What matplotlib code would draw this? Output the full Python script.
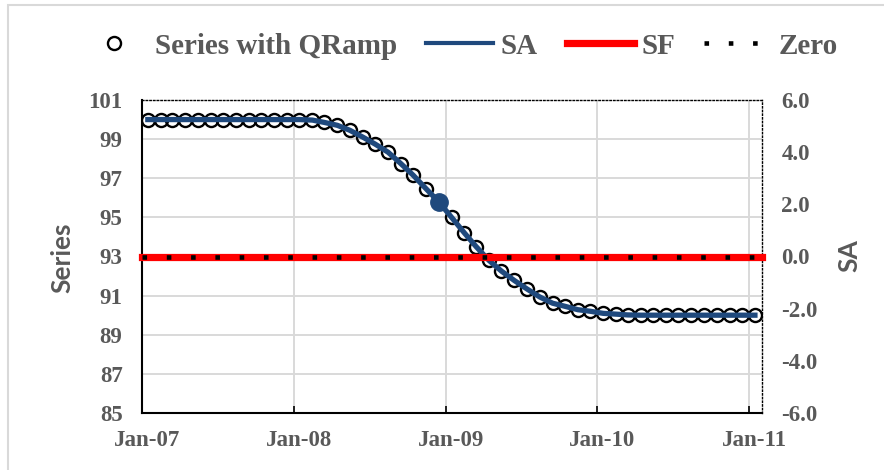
import matplotlib
matplotlib.use('Agg')
import matplotlib.pyplot as plt
import matplotlib.dates as mdates
import matplotlib.transforms as mtransforms
from matplotlib.lines import Line2D
from matplotlib.patches import Rectangle
import pandas as pd

# ---------------- data ----------------
dates = pd.date_range('2007-01-01', periods=49, freq='MS') + pd.Timedelta(days=14)

series_qramp = [100.00, 100.00, 100.00, 100.00, 100.00, 100.00, 100.00, 100.00, 100.00, 100.00,
                100.00, 100.00, 100.00, 99.97, 99.85, 99.70, 99.45, 99.10, 98.75, 98.33,
                97.75, 97.15, 96.45, 95.80, 95.00, 94.20, 93.50, 92.80, 92.25, 91.78,
                91.35, 90.93, 90.62, 90.45, 90.28, 90.20, 90.10, 90.05, 90.02, 90.00,
                90.00, 90.00, 90.00, 90.00, 90.00, 90.00, 90.00, 90.00, 90.00]

sa = [5.25, 5.25, 5.25, 5.25, 5.25, 5.25, 5.25, 5.25, 5.25, 5.25,
      5.25, 5.25, 5.25, 5.23, 5.14, 5.03, 4.84, 4.58, 4.31, 4.00,
      3.56, 3.11, 2.59, 2.10, 1.50, 0.90, 0.38, -0.15, -0.56, -0.92,
      -1.24, -1.55, -1.79, -1.91, -2.04, -2.10, -2.18, -2.21, -2.24, -2.25,
      -2.25, -2.25, -2.25, -2.25, -2.25, -2.25, -2.25, -2.25, -2.25]

highlight_index = 23  # Dec-08

line_dates = pd.to_datetime(['2007-01-01', '2011-02-01'])
sf_values = [0.0, 0.0]
zero_values = [0.0, 0.0]

left_ticks = [85, 87, 89, 91, 93, 95, 97, 99, 101]
right_ticks = [-6.0, -4.0, -2.0, 0.0, 2.0, 4.0, 6.0]
x_tick_dates = pd.to_datetime(['2007-01-01', '2008-01-01', '2009-01-01', '2010-01-01', '2011-01-01'])
x_tick_labels = ['Jan-07', 'Jan-08', 'Jan-09', 'Jan-10', 'Jan-11']

# ---------------- style ----------------
BLUE = '#1F497D'
RED = '#FF0000'
GRAY = '#595959'
GRID = '#D9D9D9'
SERIF = 'Liberation Serif'
SANS = 'Lato'

W, H = 884, 470
fig = plt.figure(figsize=(W / 100, H / 100), dpi=100)
ax = fig.add_axes([142 / W, 1 - 413 / H, 620 / W, 313 / H])
ax2 = ax.twinx()

# outer chart border
fig.patches.append(Rectangle((8 / W, -0.1), 1.2, 1 - 5 / H + 0.1, transform=fig.transFigure,
                             fill=False, edgecolor=GRID, linewidth=1.5, zorder=0))

# primary: series with markers
ax.plot(dates, series_qramp, linestyle='none', marker='o', markersize=9.4,
        markerfacecolor='none', markeredgecolor='black', markeredgewidth=1.7, zorder=3)
ax.plot(dates[highlight_index], series_qramp[highlight_index], linestyle='none', marker='o',
        markersize=12.5, markerfacecolor=BLUE, markeredgecolor=BLUE, zorder=3)

# secondary
ax2.plot(dates, sa, color=BLUE, linewidth=3.8, zorder=3)
ax2.plot(line_dates, sf_values, color=RED, linewidth=5.2, solid_capstyle='projecting',
         clip_on=False, zorder=4)
ax2.plot(line_dates, zero_values, color='black', linewidth=3.3, linestyle=(0, (1, 4.3)),
         dash_capstyle='butt', clip_on=False, zorder=5)

# axes limits & ticks
ax.set_xlim(line_dates[0], line_dates[1])
ax.set_ylim(85, 101)
ax2.set_ylim(-6, 6)

ax.set_xticks(x_tick_dates)
ax.set_xticklabels(x_tick_labels)
ax.set_yticks(left_ticks)
ax.set_yticklabels([str(t) for t in left_ticks])
ax2.set_yticks(right_ticks)
ax2.set_yticklabels([f'{t:.1f}' for t in right_ticks])

for lab in ax.get_xticklabels() + ax.get_yticklabels() + ax2.get_yticklabels():
    lab.set_fontfamily(SERIF)
    lab.set_fontweight('bold')
    lab.set_fontsize(16.5)
    lab.set_color(GRAY)

ax.tick_params(axis='x', direction='in', length=5, width=1.2, color='black', pad=12)
ax.tick_params(axis='y', length=0, pad=14)
ax2.tick_params(axis='y', length=0, pad=14)

offset = mtransforms.ScaledTranslation(5 / 100, 0, fig.dpi_scale_trans)
for lab in ax.get_xticklabels():
    lab.set_transform(lab.get_transform() + offset)

ax.grid(True, color=GRID, linewidth=1.4)
ax.set_axisbelow(True)

# spines
for s in ['left', 'bottom']:
    ax.spines[s].set_color('black')
    ax.spines[s].set_linewidth(1.5)
ax.spines['top'].set_linestyle(':')
ax.spines['top'].set_linewidth(1.0)
ax.spines['right'].set_visible(False)
for s in ['left', 'bottom', 'top']:
    ax2.spines[s].set_visible(False)
ax2.spines['right'].set_linestyle(':')
ax2.spines['right'].set_linewidth(1.0)

# axis labels
fig.text(62 / W, 1 - 258 / H, 'Series', rotation=90, ha='center', va='center',
         fontfamily=SANS, fontweight='bold', fontsize=19, color=GRAY)
fig.text(849 / W, 1 - 256 / H, 'SA', rotation=90, ha='center', va='center',
         fontfamily=SANS, fontweight='bold', fontsize=19, color=GRAY)

# legend
handles = [
    Line2D([], [], linestyle='none', marker='o', markersize=9.4, markerfacecolor='none',
           markeredgecolor='black', markeredgewidth=1.7),
    Line2D([], [], color=BLUE, linewidth=3.0),
    Line2D([], [], color=RED, linewidth=5.2),
    Line2D([], [], color='black', linewidth=3.3, linestyle=(0, (1, 4.3)), dash_capstyle='butt'),
]
labels = ['Series with QRamp', 'SA', 'SF', 'Zero']
leg = fig.legend(handles, labels, loc='center', bbox_to_anchor=(459 / W, 1 - 46 / H), ncol=4,
                 frameon=False, prop=dict(family=SERIF, weight='bold', size=21),
                 handlelength=2.3, handletextpad=0.25, columnspacing=1.0, borderaxespad=0)
for t in leg.get_texts():
    t.set_color(GRAY)

fig.savefig('out.png', dpi=100)
